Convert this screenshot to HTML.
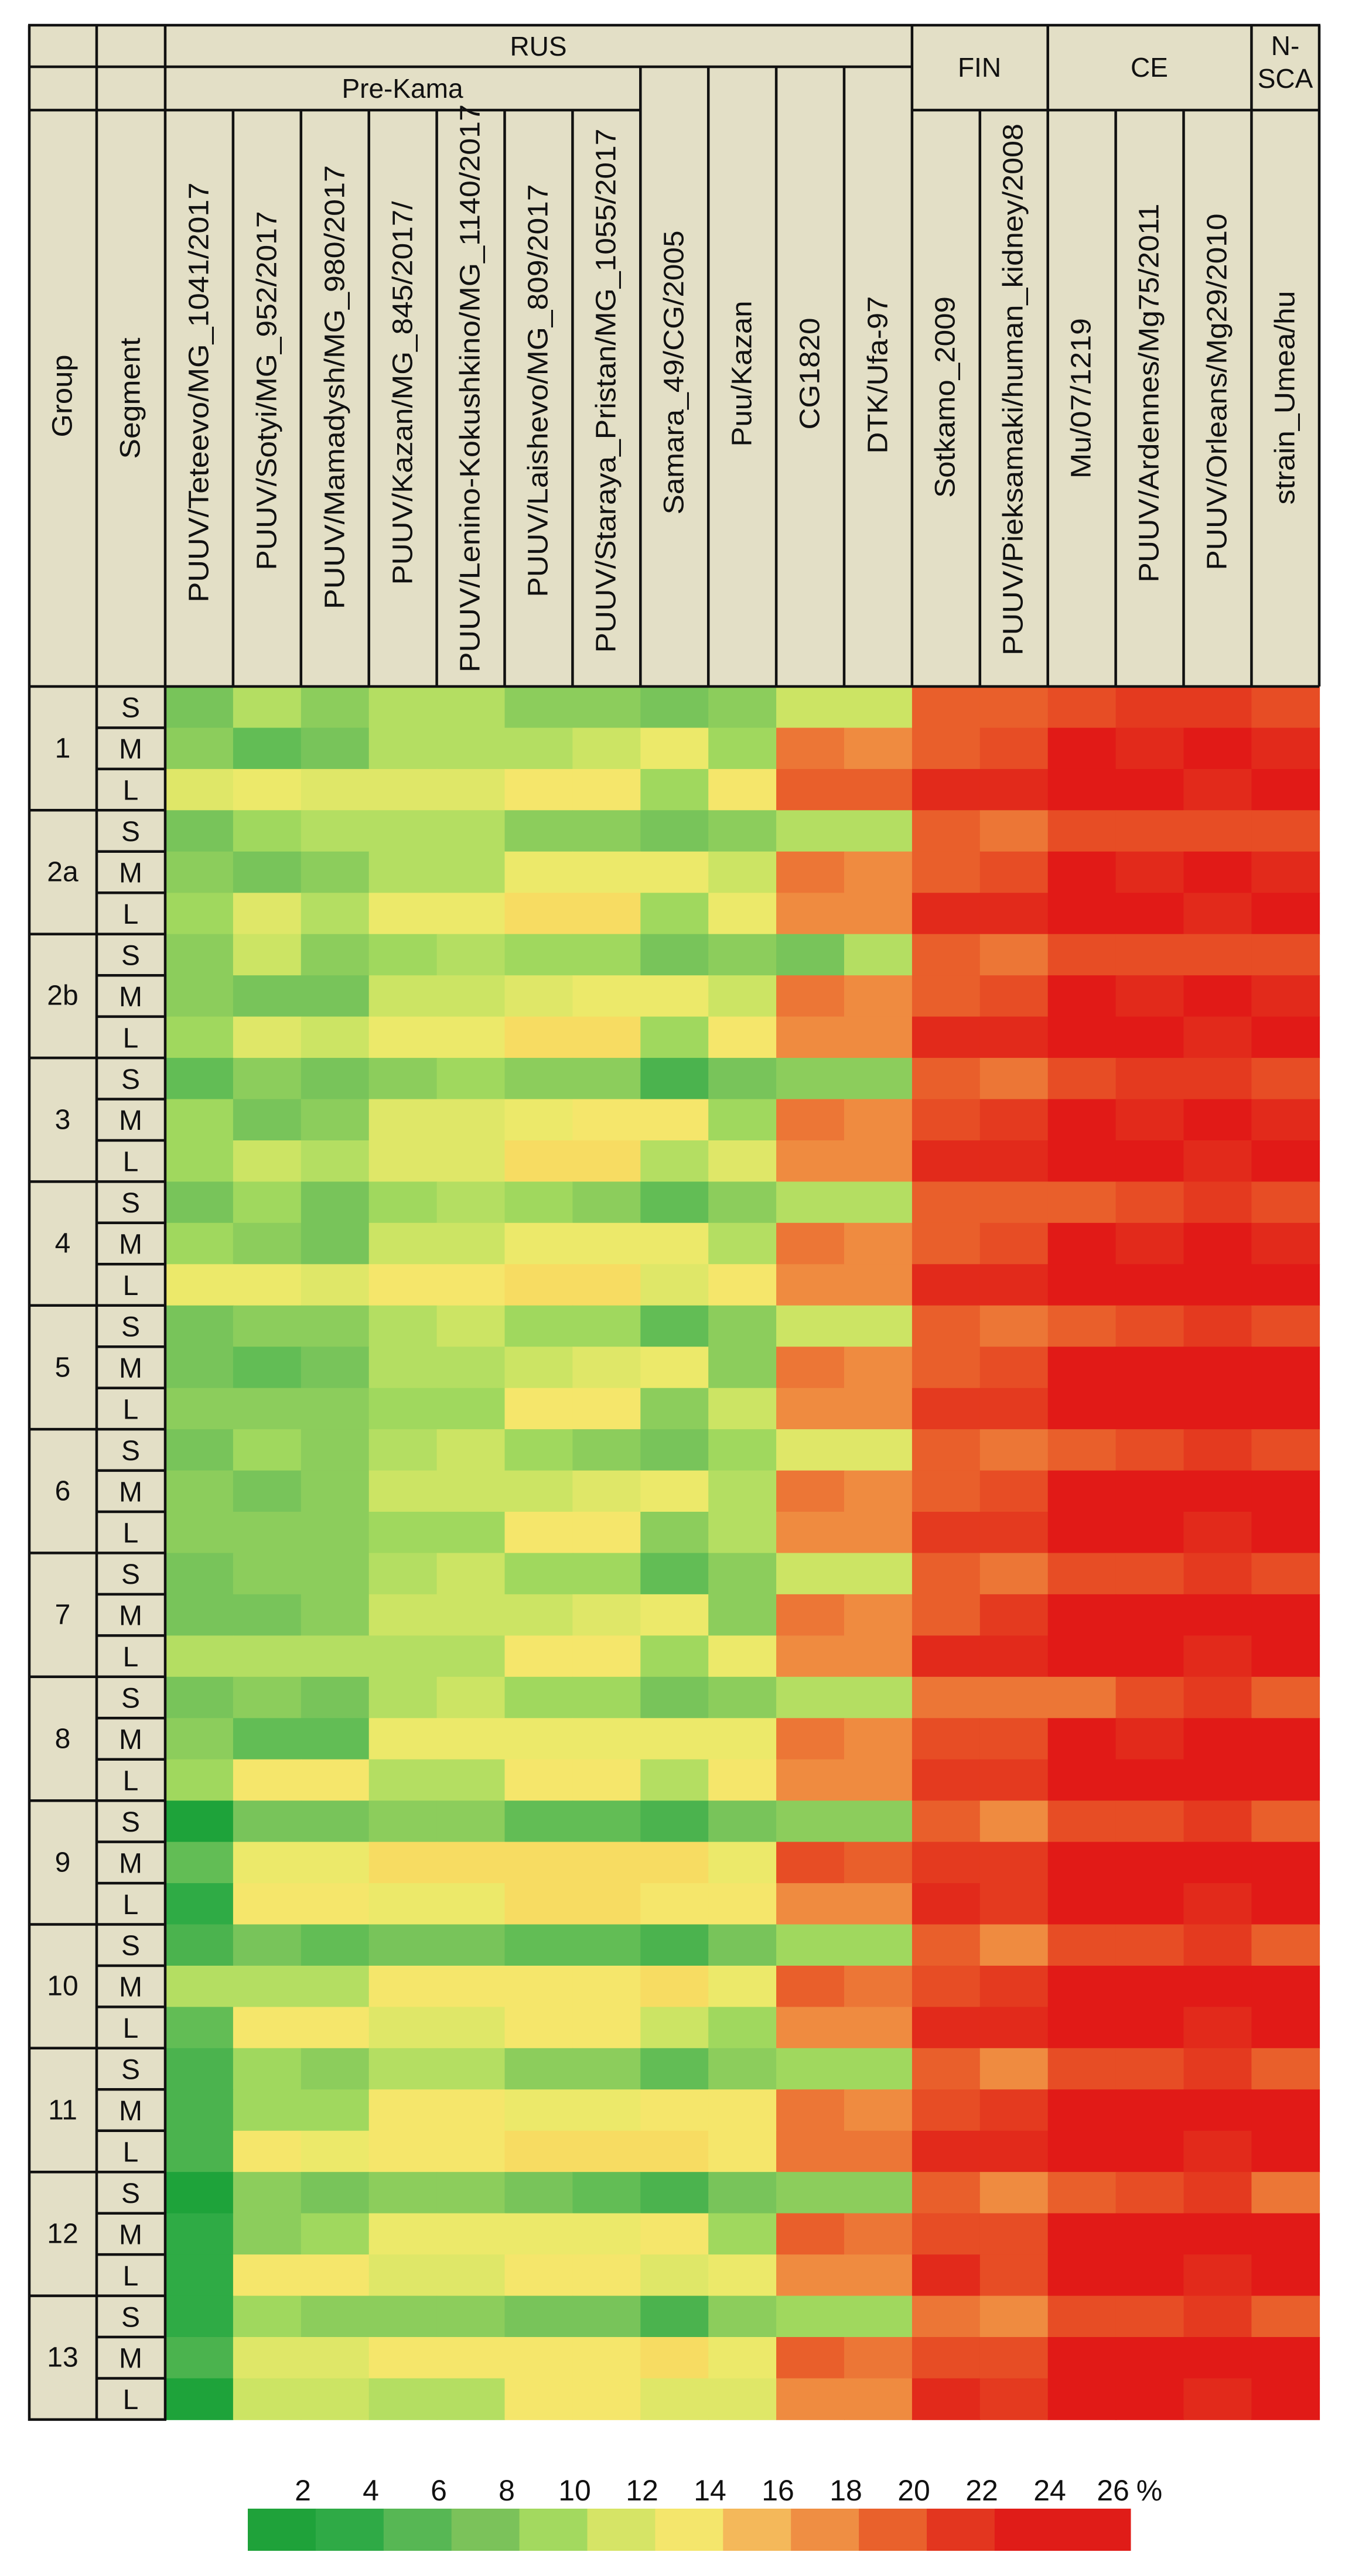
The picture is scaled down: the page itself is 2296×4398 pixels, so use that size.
<!DOCTYPE html>
<html><head><meta charset="utf-8"><style>
html,body{margin:0;padding:0;background:#fff;}
svg{display:block;font-family:"Liberation Sans",Arial,sans-serif;}
</style></head><body>
<svg id="s" width="2296" height="4398" viewBox="0 0 2296 4398" xmlns="http://www.w3.org/2000/svg">
<rect x="50" y="43" width="2202" height="1129" fill="#e3dfc6"/>
<rect x="50" y="1172" width="232" height="2959" fill="#e3dfc6"/>
<g id="cells"></g>
<g id="lines" stroke="#111" stroke-width="4.5" fill="none"></g>
<g font-size="46" fill="#111" text-anchor="middle" dominant-baseline="central">
<text x="919" y="79">RUS</text>
<text x="687" y="151">Pre-Kama</text>
<text x="1672" y="115">FIN</text>
<text x="1962" y="115">CE</text>
<text x="2194" y="78">N-</text>
<text x="2194" y="134">SCA</text>
</g>
<g font-size="48" fill="#111" text-anchor="middle" dominant-baseline="central">
<text transform="translate(107,676) rotate(-90)" textLength="141" lengthAdjust="spacingAndGlyphs">Group</text>
<text transform="translate(223,680) rotate(-90)" textLength="207" lengthAdjust="spacingAndGlyphs">Segment</text>
<text transform="translate(340,670) rotate(-90)" textLength="717" lengthAdjust="spacingAndGlyphs">PUUV/Teteevo/MG_1041/2017</text>
<text transform="translate(456,667) rotate(-90)" textLength="613" lengthAdjust="spacingAndGlyphs">PUUV/Sotyi/MG_952/2017</text>
<text transform="translate(572,661) rotate(-90)" textLength="758" lengthAdjust="spacingAndGlyphs">PUUV/Mamadysh/MG_980/2017</text>
<text transform="translate(688,671) rotate(-90)" textLength="655" lengthAdjust="spacingAndGlyphs">PUUV/Kazan/MG_845/2017/</text>
<text transform="translate(803,663) rotate(-90)" textLength="970" lengthAdjust="spacingAndGlyphs">PUUV/Lenino-Kokushkino/MG_1140/2017</text>
<text transform="translate(919,667) rotate(-90)" textLength="705" lengthAdjust="spacingAndGlyphs">PUUV/Laishevo/MG_809/2017</text>
<text transform="translate(1035,667) rotate(-90)" textLength="895" lengthAdjust="spacingAndGlyphs">PUUV/Staraya_Pristan/MG_1055/2017</text>
<text transform="translate(1151,636) rotate(-90)" textLength="485" lengthAdjust="spacingAndGlyphs">Samara_49/CG/2005</text>
<text transform="translate(1267,638) rotate(-90)" textLength="249" lengthAdjust="spacingAndGlyphs">Puu/Kazan</text>
<text transform="translate(1383,638) rotate(-90)" textLength="191" lengthAdjust="spacingAndGlyphs">CG1820</text>
<text transform="translate(1499,640) rotate(-90)" textLength="269" lengthAdjust="spacingAndGlyphs">DTK/Ufa-97</text>
<text transform="translate(1614,678) rotate(-90)" textLength="344" lengthAdjust="spacingAndGlyphs">Sotkamo_2009</text>
<text transform="translate(1730,665) rotate(-90)" textLength="908" lengthAdjust="spacingAndGlyphs">PUUV/Pieksamaki/human_kidney/2008</text>
<text transform="translate(1846,680) rotate(-90)" textLength="274" lengthAdjust="spacingAndGlyphs">Mu/07/1219</text>
<text transform="translate(1962,671) rotate(-90)" textLength="647" lengthAdjust="spacingAndGlyphs">PUUV/Ardennes/Mg75/2011</text>
<text transform="translate(2078,669) rotate(-90)" textLength="609" lengthAdjust="spacingAndGlyphs">PUUV/Orleans/Mg29/2010</text>
<text transform="translate(2194,679) rotate(-90)" textLength="365" lengthAdjust="spacingAndGlyphs">strain_Umea/hu</text>
</g>
<g id="rowlabels" font-size="48" fill="#111" text-anchor="middle" dominant-baseline="central">
<text x="107" y="1278">1</text><text x="107" y="1489">2a</text><text x="107" y="1700">2b</text>
<text x="107" y="1912">3</text><text x="107" y="2123">4</text><text x="107" y="2335">5</text>
<text x="107" y="2546">6</text><text x="107" y="2757">7</text><text x="107" y="2969">8</text>
<text x="107" y="3180">9</text><text x="107" y="3391">10</text><text x="107" y="3603">11</text>
<text x="107" y="3814">12</text><text x="107" y="4025">13</text>
</g>
<g id="seg" font-size="48" fill="#111" text-anchor="middle" dominant-baseline="central"></g>
<g id="legend"></g>
<g font-size="50" fill="#111" text-anchor="middle">
<text x="517" y="4269">2</text><text x="633" y="4269">4</text><text x="749" y="4269">6</text>
<text x="865" y="4269">8</text><text x="981" y="4269">10</text><text x="1096" y="4269">12</text>
<text x="1212" y="4269">14</text><text x="1328" y="4269">16</text><text x="1444" y="4269">18</text>
<text x="1560" y="4269">20</text><text x="1676" y="4269">22</text><text x="1792" y="4269">24</text>
<text x="1900" y="4269">26</text><text x="1962" y="4269">%</text>
</g>
</svg>
<script>
(function(){
var C={a:"#1ea33a",b:"#2fab45",c:"#4bb34e",d:"#62bd55",e:"#78c45a",f:"#8ccd5c",g:"#a0d85e",h:"#b4de62",i:"#cce464",j:"#dfe768",k:"#ece96a",l:"#f5e66b",m:"#f7dc62",n:"#ef8b40",o:"#ec7636",p:"#e95f2b",q:"#e74d25",r:"#e43a1f",s:"#e22a1b",t:"#e11a17"};
var D=["ehfhhffefiippqrrq","fdehhhikgonpqtsts","jkjjjllglppssttst","eghhhffefhhpoqqqq","fefhhkkkionpqtsts","gjhkkmmgknnssttst","fifghggefehpoqqqq","feeiijkkionpqtsts","gjikkmmglnnssttst","dfefgffceffpoqrrq","gefjjkllgonqrtsts","gihjjmmhjnnssttst","egeghgfdfhhpppqrq","gfeiikkkhonpqtsts",
"kkjllmmjlnnsstttt","effhiggdfiipopqrq","edehhijkfonpqtttt","fffggllfinnrrtttt","egfhigfegjjpopqrq","fefiiijkhonpqtttt","fffggllfhnnrrttst","effhiggdfiipoqqrq","eefiiijkfonprtttt","hhhhhllgknnssttst","efehiggefhhoooqrp","fddkkkkkkonqqtstt","gllhhllhlnnrrtttt","aeeffddceffpnqqrp",
"dkkmmmmmkqprrtttt","bllkkmmllnnsrttst","cedeeddceggpnqqrp","hhhllllmkpoqrtttt","dlljjllignnssttst","cgfhhffdfggpnqqrp","cggllkkllonqrtttt","clkllmmmloossttst","afeffedceffpnpqro","bfgkkkklgpoqqtttt","blljjlljknnsqttst","bgfffeecfggonqqrp","cjjllllmkpoqqtttt","aiihhlljjnnsrttst"];
var cw=115.9,rh=70.45,h="";
for(var r=0;r<42;r++){var row=D[r];for(var c=0;c<17;c++){var ch=row[c]||"t";var x=282+cw*c,y=1172+rh*r;h+='<rect x="'+x.toFixed(1)+'" y="'+y.toFixed(1)+'" width="'+(cw+0.8).toFixed(1)+'" height="'+(rh+0.8).toFixed(1)+'" fill="'+C[ch]+'"/>';}}
document.getElementById("cells").innerHTML=h;
var L=[];function ln(x1,y1,x2,y2){L.push('<line x1="'+x1+'" y1="'+y1+'" x2="'+x2+'" y2="'+y2+'"/>');}
ln(48,43,2254,43);ln(50,43,50,4133);ln(2252,43,2252,1172);ln(165,43,165,4131);ln(282,43,282,4131);
ln(50,114,1557,114);ln(50,188,1093,188);ln(1557,188,2252,188);ln(50,1172,2252,1172);
for(var i=1;i<17;i++){var x=(282+cw*i).toFixed(1);var yt=188;if(i>=7&&i<=10)yt=114;if(i==11||i==13||i==16)yt=43;ln(x,yt,x,1172);}
for(var r=1;r<=42;r++){var y=(1172+rh*r).toFixed(1);if(r%3==0)ln(48,y,284,y);else ln(165,y,282,y);}
document.getElementById("lines").innerHTML=L.join("");
var sg="",S=["S","M","L"];for(var r=0;r<42;r++){sg+='<text x="223" y="'+(1172+rh*r+rh/2+2).toFixed(1)+'">'+S[r%3]+'</text>';}
document.getElementById("seg").innerHTML=sg;
var LC=["#1fa23a","#2faa46","#57b754","#7bc25a","#a3d95f","#d6e466","#f4e66c","#f4b85a","#ef8e43","#e9612c","#e3361f","#e01c18","#e01c18"],lg="";
for(var i=0;i<13;i++){lg+='<rect x="'+(423+cw*i).toFixed(1)+'" y="4283" width="'+(cw+0.8).toFixed(1)+'" height="72" fill="'+LC[i]+'"/>';}
document.getElementById("legend").innerHTML=lg;
})();
</script>
</body></html>
